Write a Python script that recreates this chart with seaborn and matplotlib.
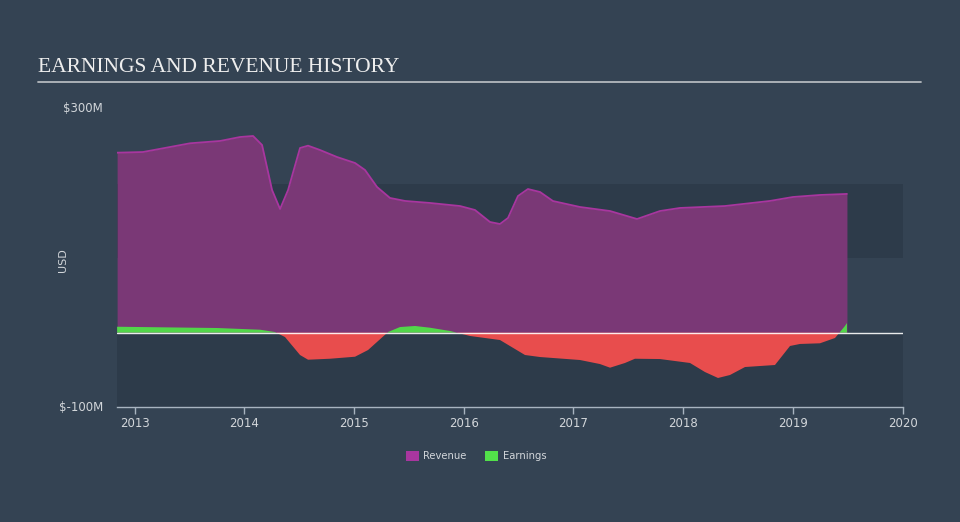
import matplotlib
matplotlib.use("Agg")
import matplotlib.pyplot as plt
from matplotlib.patches import Patch
import numpy as np
import pandas as pd
import seaborn as sns

# ---- data (decimal years, USD millions) ----
rev_years = [2012.841, 2013.077, 2013.506, 2013.779, 2013.961, 2014.080, 2014.162, 2014.253,
             2014.326, 2014.399, 2014.508, 2014.581, 2014.690, 2014.845, 2015.009, 2015.100,
             2015.210, 2015.328, 2015.465, 2015.692, 2015.966, 2016.102, 2016.239, 2016.330,
             2016.403, 2016.494, 2016.585, 2016.695, 2016.813, 2017.059, 2017.333, 2017.579,
             2017.788, 2017.970, 2018.380, 2018.790, 2019.000, 2019.246, 2019.492]
revenue = [241.3, 242.2, 253.9, 257.0, 262.3, 263.7, 251.6, 191.3,
           165.8, 191.3, 247.6, 250.7, 244.9, 235.5, 227.5, 218.1,
           195.3, 180.6, 176.6, 173.9, 169.8, 164.5, 148.4, 145.7,
           153.8, 183.2, 192.6, 188.6, 176.5, 168.5, 163.1, 152.4,
           163.1, 167.2, 169.8, 176.6, 181.9, 184.6, 186.0]

earn_years = [2012.841, 2013.752, 2014.144, 2014.280, 2014.371, 2014.508, 2014.581, 2014.781,
              2015.009, 2015.128, 2015.310, 2015.419, 2015.556, 2015.692, 2015.875, 2016.057,
              2016.330, 2016.558, 2016.695, 2017.059, 2017.241, 2017.333, 2017.469, 2017.560,
              2017.788, 2018.062, 2018.198, 2018.317, 2018.426, 2018.563, 2018.836, 2018.973,
              2019.064, 2019.246, 2019.383, 2019.474, 2019.492]
earnings = [8.0, 6.3, 4.0, 0.9, -5.8, -29.9, -36.2, -34.9,
            -32.2, -23.2, 0.9, 7.6, 9.0, 6.7, 2.3, -4.4,
            -9.8, -29.9, -32.6, -36.6, -42.0, -46.9, -40.6, -34.9,
            -35.3, -40.6, -52.7, -60.7, -56.7, -46.0, -43.3, -17.8,
            -15.1, -14.2, -7.1, 9.0, 13.0]

x_ticks = [2013, 2014, 2015, 2016, 2017, 2018, 2019, 2020]
y_ticks = [300, -100]
y_tick_labels = ["$300M", "$-100M"]

BG = "#344353"
BAND = "#2d3b4a"
TXT = "#d2d6da"

sns.set_theme(style="dark")
plt.rcParams['font.family'] = ['DejaVu Sans']

fig = plt.figure(figsize=(9.6, 5.22), dpi=100, facecolor=BG)
ax = fig.add_axes([117/960, 1-407.3/522, (902.7-117)/960, (407.3-108.9)/522])
ax.set_facecolor(BG)

# bands
ax.axhspan(-100, 0, color=BAND, zorder=0, lw=0)
ax.axhspan(100, 200, color=BAND, zorder=0, lw=0)

rev_df = pd.DataFrame({"year": rev_years, "value": revenue})
earn_df = pd.DataFrame({"year": earn_years, "value": earnings})

# revenue area
ax.fill_between(rev_df["year"], 0, rev_df["value"], color="#7a3876", lw=0, zorder=2)
sns.lineplot(data=rev_df, x="year", y="value", ax=ax, color="#a8369f", lw=1.3, zorder=3)

# earnings area
ey = np.array(earnings)
ax.fill_between(earn_years, 0, ey, where=ey >= 0, interpolate=True, color="#52d64a", lw=0, zorder=4)
ax.fill_between(earn_years, 0, ey, where=ey <= 0, interpolate=True, color="#e84d4d", lw=0, zorder=4)

ax.axhline(0, color="white", lw=1.0, alpha=0.9, zorder=5)

ax.set_xlim(2012.84, 2020.0)
ax.set_ylim(-100, 300)
ax.set_xticks(x_ticks)
ax.set_xticklabels([str(t) for t in x_ticks], color=TXT, fontsize=8.5,
                   family=['Liberation Sans Narrow', 'DejaVu Sans'])
ax.set_yticks(y_ticks)
ax.set_yticklabels(y_tick_labels, color=TXT, fontsize=8.5)
ax.tick_params(axis='x', length=5, width=1, color="#a8b4c0", pad=2, bottom=True)
ax.tick_params(axis='y', length=0, pad=10)
for lbl in ax.get_yticklabels():
    lbl.set_va('center')
ax.set_xlabel("")
ax.set_ylabel("")
ax.grid(False)
for s in ["top", "right", "left"]:
    ax.spines[s].set_visible(False)
ax.spines["bottom"].set_color("#a8b4c0")
ax.spines["bottom"].set_linewidth(1)

fig.text(63/960, 1-260/522, "USD", color=TXT, fontsize=8, rotation=90, ha='center', va='center')

# title + rule
fig.text(38/960, 1-67/522, "EARNINGS AND REVENUE HISTORY", color="#eeeeee",
         fontsize=15.5, family=['Liberation Serif', 'DejaVu Serif'], va='center', ha='left')
fig.add_artist(plt.Line2D([38/960, 921/960], [1-81.7/522, 1-81.7/522],
                          color="#b4b9be", lw=1.3, transform=fig.transFigure))

# legend
handles = [Patch(facecolor="#a8369f", edgecolor="none", label="Revenue"),
           Patch(facecolor="#52e04a", edgecolor="none", label="Earnings")]
leg = fig.legend(handles=handles, loc="center", bbox_to_anchor=(476/960, 1-456/522), ncol=2,
                 frameon=False, fontsize=7.2, handlelength=1.3, handleheight=1.3,
                 columnspacing=1.8, handletextpad=0.5)
for t in leg.get_texts():
    t.set_color(TXT)

fig.savefig("out.png", dpi=100, facecolor=BG)
